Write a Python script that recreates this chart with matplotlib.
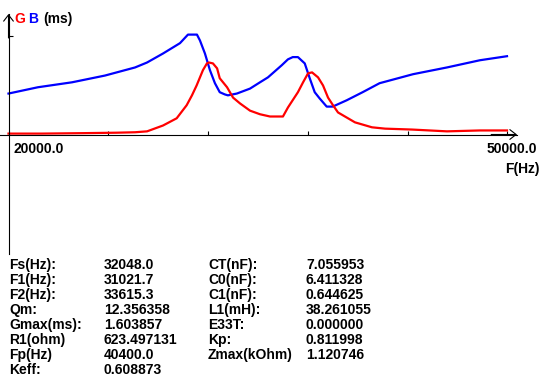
import matplotlib
matplotlib.use('Agg')
import matplotlib.pyplot as plt

# B (susceptance) curve, ms
freq_b = [20000, 21770, 23820, 25800, 27610, 28330, 29290, 30310, 30790, 31330,
          31510, 31810, 32110, 32410, 32700, 33010, 33190, 33730, 34520, 35120, 35600,
          36430, 36800, 37090, 37400, 37810, 38110, 38410, 38710, 39130, 39490,
          40330, 41290, 42310, 44320, 46360, 48340, 49970]
b_ms = [0.91, 1.05, 1.16, 1.31, 1.49, 1.60, 1.80, 2.03, 2.22, 2.22,
        2.09, 1.80, 1.43, 1.14, 0.94, 0.89, 0.87, 0.91, 1.02, 1.16, 1.27,
        1.54, 1.67, 1.72, 1.72, 1.58, 1.25, 0.94, 0.80, 0.62, 0.62,
        0.76, 0.94, 1.14, 1.34, 1.49, 1.65, 1.74]

# G (conductance) curve, ms
freq_g = [20000, 22000, 24500, 26500, 27610, 28330, 29290, 30110, 30710, 31030,
          31310, 31690, 31930, 32050, 32290, 32540, 32700, 33140, 33500, 33920,
          34520, 35120, 35720, 36500, 36800, 37400, 37710, 38010, 38250, 38610,
          38910, 39210, 39510, 39810, 40830, 41850, 42640, 44260, 46360, 48340,
          49970]
g_ms = [0.02, 0.02, 0.03, 0.04, 0.05, 0.07, 0.20, 0.36, 0.65, 0.87,
        1.09, 1.43, 1.58, 1.60, 1.58, 1.47, 1.25, 1.05, 0.82, 0.69,
        0.53, 0.45, 0.40, 0.40, 0.60, 0.94, 1.16, 1.36, 1.38, 1.27,
        1.09, 0.82, 0.65, 0.49, 0.27, 0.16, 0.13, 0.11, 0.07, 0.09,
        0.09]

f_min, f_max = 20000, 50000
x_ticks = [20000, 26000, 32000, 38000, 44000, 50000]
y_tick = 2.2

labels_1 = ['Fs(Hz):', 'F1(Hz):', 'F2(Hz):', 'Qm:', 'Gmax(ms):', 'R1(ohm)', 'Fp(Hz)', 'Keff:']
values_1 = ['32048.0', '31021.7', '33615.3', '12.356358', '1.603857', '623.497131', '40400.0', '0.608873']
labels_2 = ['CT(nF):', 'C0(nF):', 'C1(nF):', 'L1(mH):', 'E33T:', 'Kp:', 'Zmax(kOhm)']
values_2 = ['7.055953', '6.411328', '0.644625', '38.261055', '0.000000', '0.811998', '1.120746']

W, H = 542, 377
fig = plt.figure(figsize=(W / 100, H / 100), dpi=100)

# pixel geometry of the plot frame
px_f0, px_f1 = 8.5, 507.5          # x pixels of 20000 / 50000
px_y0, px_ytick = 134.5, 35.5       # y pixels of 0 / tick
left_px, right_px = 0, 517
top_px, bottom_px = 14, 254
hz_per_px = (f_max - f_min) / (px_f1 - px_f0)
ms_per_px = y_tick / (px_y0 - px_ytick)

ax = fig.add_axes([left_px / W, 1 - bottom_px / H,
                   (right_px - left_px) / W, (bottom_px - top_px) / H])
ax.set_xlim(f_min - (px_f0 - left_px) * hz_per_px, f_min + (right_px - px_f0) * hz_per_px)
ax.set_ylim(-(bottom_px - px_y0) * ms_per_px, (px_y0 - top_px) * ms_per_px)
ax.patch.set_visible(False)

ax.plot(freq_b, b_ms, color='#0000ff', lw=1.6, clip_on=False)
ax.plot(freq_g, g_ms, color='#ff0000', lw=1.6, clip_on=False)

for s in ['top', 'right']:
    ax.spines[s].set_visible(False)
ax.spines['left'].set_position(('data', f_min))
ax.spines['bottom'].set_position(('data', 0))
for s in ['left', 'bottom']:
    ax.spines[s].set_linewidth(0.8)
ax.set_xticks(x_ticks)
ax.set_yticks([y_tick])
ax.tick_params(direction='in', length=3, width=0.8, labelbottom=False, labelleft=False)

# arrow heads
arrow = dict(arrowstyle='->,head_length=0.45,head_width=0.35', lw=0.8, color='black',
             shrinkA=0, shrinkB=0)
ax.annotate('', xy=(f_min, 1.0), xytext=(f_min, 0.9),
            xycoords=('data', 'axes fraction'), arrowprops=arrow)
ax.annotate('', xy=(1.0, 0), xytext=(0.95, 0),
            xycoords=('axes fraction', 'data'), arrowprops=arrow)


def px(x, y):
    return x / W, 1 - y / H


font = dict(family='Liberation Sans', weight='bold', size=10)
fig.text(*px(14, 23), 'G', color='#ff0000', **font)
fig.text(*px(28, 23), 'B', color='#0000ff', **font)
fig.text(*px(43, 23), '(ms)', color='black', **font)
fig.text(*px(13, 153), '20000.0', **font)
fig.text(*px(537, 153), '50000.0', ha='right', **font)
fig.text(*px(540, 173), 'F(Hz)', ha='right', **font)

row0, row_h = 269, 15
for i, (lab, val) in enumerate(zip(labels_1, values_1)):
    fig.text(*px(9, row0 + i * row_h), lab, **font)
    fig.text(*px(104, row0 + i * row_h), val, **font)
for i, (lab, val) in enumerate(zip(labels_2, values_2)):
    fig.text(*px(208, row0 + i * row_h), lab, **font)
    fig.text(*px(306, row0 + i * row_h), val, **font)

fig.savefig('out.png', dpi=100)
